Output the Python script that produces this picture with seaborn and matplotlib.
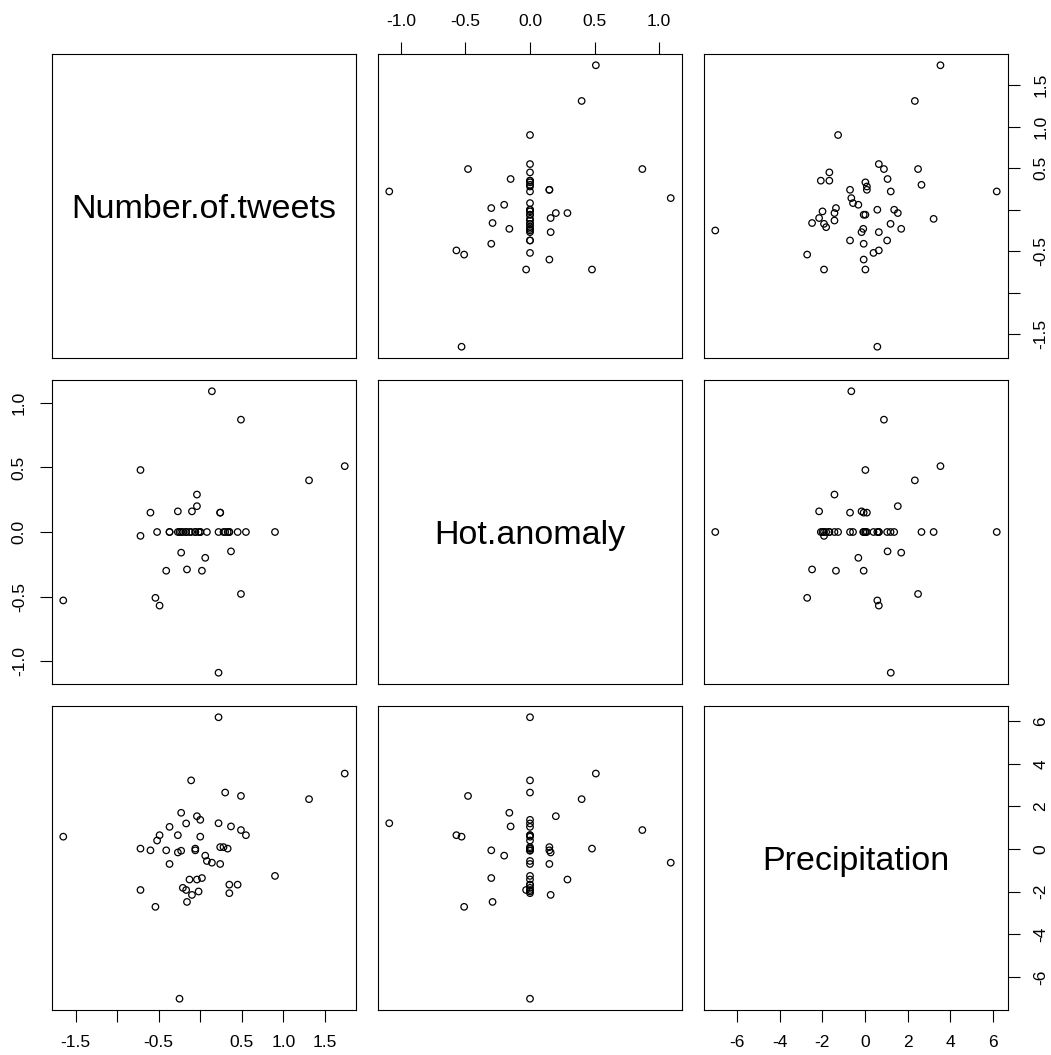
import matplotlib
matplotlib.use("Agg")
import matplotlib.pyplot as plt
import seaborn as sns
import pandas as pd

tweets = [0.22, 1.74, -0.11, 0.30, 0.49, 1.31, -0.23, -0.04, 0.00, -0.17,
          0.22, -0.37, 0.37, 0.49, 0.55, -1.65, -0.49, -0.52, -0.27, 0.00,
          -0.72, -0.60, -0.41, -0.27, -0.23, -0.06, -0.06, 0.24, 0.28, 0.33,
          0.06, 0.08, 0.14, 0.24, -0.37, 0.90, -0.13, -0.04, 0.02, 0.35,
          0.45, -0.72, -0.21, -0.17, -0.02, -0.10, 0.35, -0.16, -0.54, -0.25]
hot_anomaly = [0.00, 0.51, 0.00, 0.00, -0.48, 0.40, -0.16, 0.20, 0.00, 0.00,
               -1.09, 0.00, -0.15, 0.87, 0.00, -0.53, -0.57, 0.00, 0.00, 0.00,
               0.48, 0.15, -0.30, 0.16, 0.00, 0.00, 0.00, 0.15, 0.00, 0.00,
               -0.20, 0.00, 1.09, 0.15, 0.00, 0.00, 0.00, 0.29, -0.30, 0.00,
               0.00, -0.03, 0.00, 0.00, 0.00, 0.16, 0.00, -0.29, -0.51, 0.00]
precipitation = [6.18, 3.54, 3.22, 2.65, 2.49, 2.34, 1.70, 1.54, 1.37, 1.20,
                 1.21, 1.04, 1.06, 0.89, 0.65, 0.58, 0.65, 0.40, 0.65, 0.58,
                 0.02, -0.06, -0.06, -0.16, -0.08, 0.02, -0.06, 0.09, 0.09, 0.02,
                 -0.31, -0.56, -0.64, -0.70, -0.70, -1.26, -1.43, -1.43, -1.36, -1.67,
                 -1.67, -1.92, -1.82, -1.92, -1.99, -2.15, -2.07, -2.48, -2.71, -7.02]

names = ["Number.of.tweets", "Hot.anomaly", "Precipitation"]

tweet_ticks = [-1.5, -1.0, -0.5, 0.0, 0.5, 1.0, 1.5]
tweet_labels = ["-1.5", "", "-0.5", "", "0.5", "1.0", "1.5"]
hot_ticks = [-1.0, -0.5, 0.0, 0.5, 1.0]
hot_labels = ["-1.0", "-0.5", "0.0", "0.5", "1.0"]
precip_ticks = [-6, -4, -2, 0, 2, 4, 6]
precip_labels = ["-6", "-4", "-2", "0", "2", "4", "6"]

df = pd.DataFrame({names[0]: tweets, names[1]: hot_anomaly, names[2]: precipitation})
ticks = [(tweet_ticks, tweet_labels), (hot_ticks, hot_labels), (precip_ticks, precip_labels)]

sns.set_theme(style="white")
plt.rcParams["font.family"] = ["Liberation Sans", "DejaVu Sans"]

W, H = 1051, 1055
fig = plt.figure(figsize=(W / 100, H / 100), dpi=100)

lefts = [52, 378, 704]
tops = [54, 380, 706]
size = 304


def lims(col):
    lo, hi = df[col].min(), df[col].max()
    pad = 0.04 * (hi - lo)
    return lo - pad, hi + pad


tick_kw = dict(length=8.6, width=0.8, pad=9.5, labelsize=12.5, colors="black")

for i in range(3):
    for j in range(3):
        ax = fig.add_axes([lefts[j] / W, 1 - (tops[i] + size) / H, size / W, size / H])
        ax.set_xlim(lims(names[j]))
        ax.set_ylim(lims(names[i]))
        if i == j:
            ax.text(0.5, 0.5, names[i], transform=ax.transAxes, ha="center",
                    va="center_baseline", fontsize=24.5, color="black")
        else:
            sns.scatterplot(x=df[names[j]], y=df[names[i]], ax=ax, marker="o",
                            s=22, facecolor="none", edgecolor="black", linewidth=0.9)
        ax.set_xlabel("")
        ax.set_ylabel("")
        for sp in ax.spines.values():
            sp.set_visible(True)
            sp.set_color("black")
            sp.set_linewidth(0.8)
        ax.set_xticks([])
        ax.set_yticks([])
        # R pairs: alternating sides for the axes
        if i == 2 and j % 2 == 0:
            t, lab = ticks[j]
            ax.set_xticks(t, lab)
            ax.tick_params(axis="x", bottom=True, top=False, **tick_kw)
        if i == 0 and j % 2 == 1:
            t, lab = ticks[j]
            ax.set_xticks(t, lab)
            ax.tick_params(axis="x", bottom=False, top=True, labelbottom=False,
                           labeltop=True, **tick_kw)
        if j == 0 and i % 2 == 1:
            t, lab = ticks[i]
            ax.set_yticks(t, lab)
            ax.tick_params(axis="y", left=True, right=False, labelrotation=90, **tick_kw)
            for tl in ax.get_yticklabels():
                tl.set_va("center")
        if j == 2 and i % 2 == 0:
            t, lab = ticks[i]
            ax.set_yticks(t, lab)
            ax.tick_params(axis="y", left=False, right=True, labelleft=False,
                           labelright=True, labelrotation=90, **tick_kw)
            for tl in ax.get_yticklabels():
                tl.set_va("center")

fig.savefig("out.png", dpi=100, facecolor="white")
